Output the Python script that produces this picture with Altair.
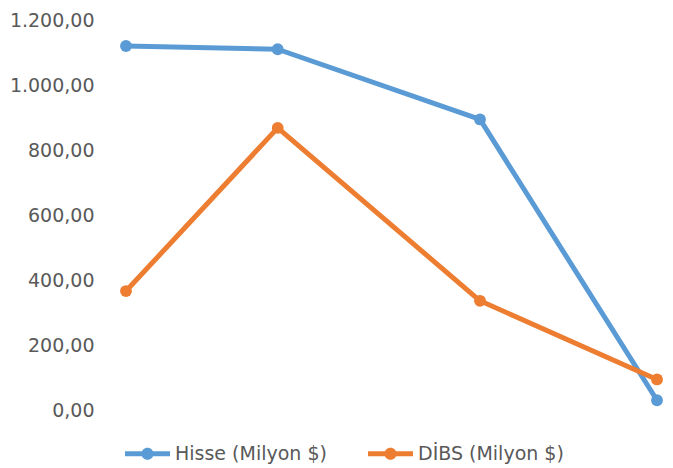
import altair as alt
import pandas as pd

# Data
donem = [0, 12, 28, 42]          # relative position (months) of each observation
hisse = [1120, 1110, 894, 30]     # Hisse (Milyon $)
dibs = [366, 868, 336, 94]        # DİBS (Milyon $)
seriler = ["Hisse (Milyon $)", "DİBS (Milyon $)"]
renkler = ["#5B9BD5", "#ED7D31"]
y_ticks = [0, 200, 400, 600, 800, 1000, 1200]

df = pd.DataFrame(
    {
        "Donem": donem * 2,
        "Deger": hisse + dibs,
        "Seri": [seriler[0]] * 4 + [seriler[1]] * 4,
    }
)

FONT = "DejaVu Sans"
GRAY = "#595959"

legend_path = (
    "M-1,-0.11 L1,-0.11 L1,0.11 L-1,0.11 Z "
    "M-0.27,0 A0.27,0.27 0 1,1 0.27,0 A0.27,0.27 0 1,1 -0.27,0 Z"
)

color = alt.Color(
    "Seri:N",
    scale=alt.Scale(domain=seriler, range=renkler),
    sort=seriler,
    legend=alt.Legend(
        title=None,
        orient="none",
        direction="horizontal",
        legendX=-1,
        legendY=411,
        symbolType=legend_path,
        symbolSize=2025,
        symbolStrokeWidth=0,
        symbolOpacity=1,
        labelFont=FONT,
        labelFontSize=19,
        labelColor=GRAY,
        labelOffset=5,
        columnPadding=41,
        padding=0,
    ),
)

x = alt.X(
    "Donem:Q",
    axis=None,
    scale=alt.Scale(domain=[0, 42], nice=False, zero=False),
)
y = alt.Y(
    "Deger:Q",
    scale=alt.Scale(domain=[0, 1200], nice=False),
    axis=alt.Axis(
        values=y_ticks,
        title=None,
        grid=False,
        domain=False,
        ticks=False,
        labelPadding=32,
        labelFont=FONT,
        labelFontSize=19,
        labelColor=GRAY,
        labelExpr="replace(replace(replace(format(datum.value, ',.2f'), ',', '#'), '.', ','), '#', '.')",
    ),
)

base = alt.Chart(df)
lines = base.mark_line(strokeWidth=5, strokeCap="round", strokeJoin="round").encode(
    x=x, y=y, color=color, detail="Seri:N"
)
points = base.mark_point(filled=True, size=140, opacity=1).encode(
    x=x, y=y, color=color
)

chart = (
    alt.layer(lines, points)
    .properties(
        width=531,
        height=390,
        background="white",
        autosize=alt.AutoSizeParams(type="none"),
        padding={"left": 118, "top": 12, "right": 8, "bottom": 54},
    )
    .configure_view(strokeWidth=0, strokeOpacity=0)
)

chart.save("out.html", embed_options={"renderer": "svg", "actions": False})
